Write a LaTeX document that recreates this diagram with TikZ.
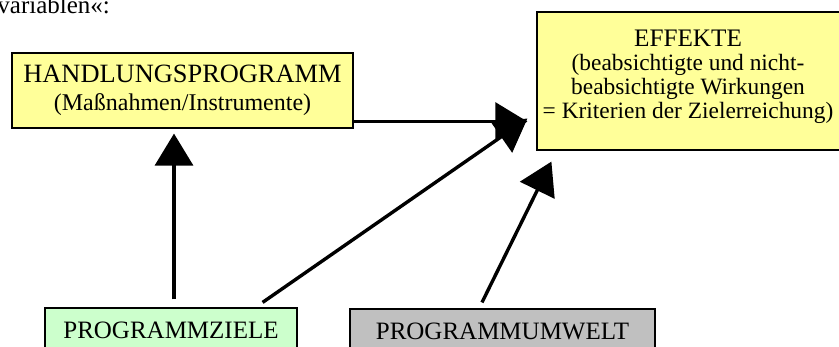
\documentclass[tikz,border=0pt]{standalone}
\usepackage{fontspec}
\setmainfont{Liberation Serif}
\usepackage{xcolor}
\usepackage{tikz}
\usetikzlibrary{arrows.meta}

\definecolor{hellgelb}{HTML}{FFFF99}
\definecolor{hellgruen}{HTML}{CCFFCC}
\definecolor{hellgrau}{HTML}{C0C0C0}

\begin{document}
\begin{tikzpicture}[x=0.5pt,y=-0.5pt,
		kasten/.style={draw=black, line width=0.6pt, inner sep=0pt},
		gross/.style={font=\fontsize{13.2}{14}\selectfont},
		unten/.style={font=\fontsize{12.5}{14}\selectfont},
		klein/.style={font=\fontsize{12.5}{12}\selectfont},
		pfeil/.style={line width=1.7pt, -{Triangle[length=16pt,width=19pt]}}]
		\useasboundingbox (0,0) rectangle (839,347);
		\clip (0,0) rectangle (839,347);
		% Rest der Textzeile oben
		\node[klein, anchor=base west, inner sep=0pt] (V) at (-3,14) {variablen«:};
		% Kaesten
		\node[kasten, fill=hellgelb, minimum width=170.5pt, minimum height=37.5pt, align=center, gross] (H) at (182.5,90.5)
			{HANDLUNGSPROGRAMM\\ \fontsize{12}{14}\selectfont (Maßnahmen/Instrumente)};
		\node[kasten, fill=hellgelb, minimum width=154pt, minimum height=69pt] (E) at (691,81) {};
		\node[align=center, font=\fontsize{11.7}{12}\selectfont, inner sep=0pt, anchor=north] (Etext) at (688,30)
			{{\fontsize{12.6}{12}\selectfont EFFEKTE}\\ (beabsichtigte und nicht-\\ beabsichtigte Wirkungen\\ = Kriterien der Zielerreichung)};
		\node[kasten, fill=hellgruen, minimum width=126pt, minimum height=22pt, unten] (Z) at (171,330) {PROGRAMMZIELE};
		\node[kasten, fill=hellgrau, minimum width=152.5pt, minimum height=22pt, unten] (U) at (502.5,331) {PROGRAMMUMWELT};
		% Pfeile
		\draw[pfeil] ([xshift=1.5pt,yshift=4pt]Z.north) -- ([xshift=-4.25pt,yshift=-2.5pt]H.south);
		\draw[pfeil] ([yshift=3.5pt]H.south east) -- ([xshift=-4.5pt,yshift=14.5pt]E.south west);
		\draw[pfeil] ([xshift=-17.5pt,yshift=2.5pt]Z.north east) -- ([xshift=-4.5pt,yshift=16pt]E.south west);
		\draw[pfeil] ([xshift=-10.25pt,yshift=3pt]U.north) -- ([xshift=7.5pt,yshift=-5.5pt]E.south west);
\end{tikzpicture}
\end{document}
